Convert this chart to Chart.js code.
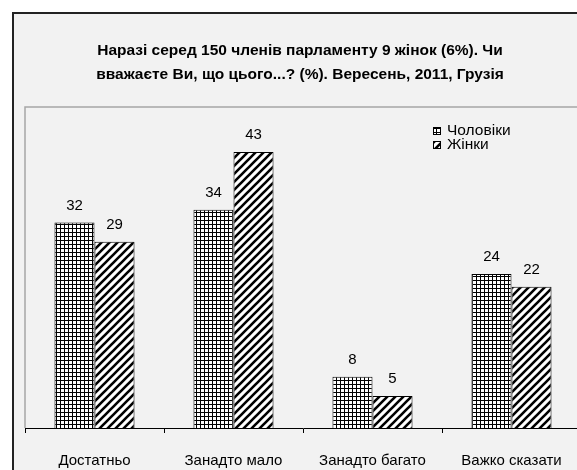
<!DOCTYPE html>
<html>
<head>
<meta charset="utf-8">
<script src="https://cdn.jsdelivr.net/npm/chart.js@4.4.1/dist/chart.umd.min.js"></script>
<style>
  html, body { margin: 0; padding: 0; background: #fff; overflow: hidden; }
  #frame {
    position: absolute; left: 12px; top: 12px;
    width: 640px; height: 500px;
    border: 2px solid #222; background: #f2f2f2;
  }
  #wrap { position: absolute; left: 0; top: 0; width: 600px; height: 470px; }
</style>
</head>
<body>
<div id="frame"></div>
<div id="wrap"><canvas id="myChart" width="600" height="470"></canvas></div>
<script>
const categories = ["Достатньо", "Занадто мало", "Занадто багато", "Важко сказати"];
const menValues = [32, 34, 8, 24];
const womenValues = [29, 43, 5, 22];
const seriesNames = ["Чоловіки", "Жінки"];
const titleLines = [
  "Наразі серед 150 членів парламенту 9 жінок (6%). Чи",
  "вважаєте Ви, що цього...? (%). Вересень, 2011, Грузія",
];

const FONT = "'Liberation Sans', Arial, sans-serif";

// hatch fills
const makePattern = (size, draw) => {
  const c = document.createElement("canvas");
  c.width = size;
  c.height = size;
  const g = c.getContext("2d");
  g.fillStyle = "#fff";
  g.fillRect(0, 0, size, size);
  draw(g);
  return document.getElementById("myChart").getContext("2d").createPattern(c, "repeat");
};

const gridPattern = makePattern(4, (g) => {
  g.fillStyle = "#000";
  g.fillRect(0, 0, 4, 1);
  g.fillRect(0, 0, 1, 4);
});

const diagPattern = makePattern(8, (g) => {
  g.strokeStyle = "#000";
  g.lineWidth = 2.6;
  g.beginPath();
  g.moveTo(0, 8); g.lineTo(8, 0);
  g.moveTo(-2, 2); g.lineTo(2, -2);
  g.moveTo(6, 10); g.lineTo(10, 6);
  g.stroke();
});

const extras = {
  id: "extras",
  afterDraw(chart) {
    const ctx = chart.ctx;
    const area = chart.chartArea;
    ctx.save();

    // plot area frame
    ctx.strokeStyle = "#a6a6a6";
    ctx.lineWidth = 1.5;
    ctx.beginPath();
    ctx.moveTo(area.left, area.bottom);
    ctx.lineTo(area.left, area.top);
    ctx.lineTo(chart.width, area.top);
    ctx.stroke();

    // title
    ctx.fillStyle = "#000";
    ctx.font = "bold 15.5px " + FONT;
    ctx.textAlign = "center";
    ctx.textBaseline = "middle";
    titleLines.forEach((t, i) => ctx.fillText(t, 300, 51 + i * 24));

    // value labels
    ctx.font = "15px " + FONT;
    chart.data.datasets.forEach((ds, di) => {
      chart.getDatasetMeta(di).data.forEach((bar, i) => {
        ctx.fillText(ds.data[i], bar.x, bar.y - 17);
      });
    });

    // legend
    ctx.font = "15.5px " + FONT;
    ctx.textAlign = "left";
    chart.data.datasets.forEach((ds, di) => {
      const y = 131 + di * 14;
      ctx.fillStyle = ds.backgroundColor;
      ctx.fillRect(433, y - 4, 8, 8);
      ctx.strokeStyle = "#000";
      ctx.lineWidth = 1;
      ctx.strokeRect(433.5, y - 3.5, 7, 7);
      ctx.fillStyle = "#000";
      ctx.fillText(ds.label, 447, y);
    });
    ctx.restore();
  },
};

new Chart("myChart", {
  type: "bar",
  data: {
    labels: categories,
    datasets: [
      {
        label: seriesNames[0],
        data: menValues,
        backgroundColor: gridPattern,
        borderColor: "#000",
        borderWidth: 1,
      },
      {
        label: seriesNames[1],
        data: womenValues,
        backgroundColor: diagPattern,
        borderColor: "#000",
        borderWidth: 1,
      },
    ],
  },
  options: {
    responsive: false,
    animation: false,
    layout: { padding: { left: 25, right: 19, top: 107, bottom: 0 } },
    datasets: { bar: { categoryPercentage: 0.576, barPercentage: 1 } },
    plugins: { legend: { display: false }, tooltip: { enabled: false } },
    scales: {
      x: {
        afterFit: (scale) => { scale.height = 42; },
        border: { display: true, color: "#000", width: 1 },
        grid: { drawOnChartArea: false, drawTicks: true, tickLength: 5, color: "#000", offset: true },
        ticks: { color: "#000", padding: 19, font: { family: FONT, size: 15 } },
      },
      y: { display: false, min: 0, max: 50 },
    },
  },
  plugins: [extras],
});
</script>
</body>
</html>
